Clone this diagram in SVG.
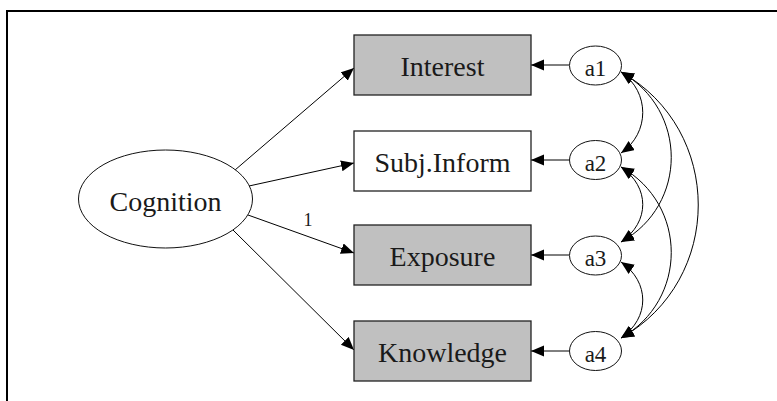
<svg xmlns="http://www.w3.org/2000/svg" width="777" height="401" viewBox="0 0 777 401">
  <style>
    .lbl { font-family: "Liberation Serif", "Times New Roman", serif; fill: #1a1a1a; text-anchor: middle; }
    .big { font-size: 28px; }
    .small { font-size: 23px; }
    .box { stroke: #222; stroke-width: 1.3; }
    .obs { fill: #c0c0c0; }
    .plain { fill: #ffffff; }
    .lat { fill: #ffffff; stroke: #111; stroke-width: 1; }
    .edge { fill: none; stroke: #000; stroke-width: 1; }
    .path { marker-end: url(#head); }
    .cov { marker-start: url(#head); marker-end: url(#head); }
  </style>
  <defs>
    <marker id="head" markerUnits="userSpaceOnUse" markerWidth="14" markerHeight="12" refX="13" refY="5.5" orient="auto-start-reverse">
      <path d="M0,0 L13,5.5 L0,11 z" fill="#000"/>
    </marker>
  </defs>

  <rect width="777" height="401" fill="#ffffff"/>
  <!-- outer frame -->
  <path d="M7,401 V11 H777" fill="none" stroke="#000" stroke-width="2"/>

  <!-- connectors -->
  <g id="connectors">
    <!-- loadings -->
    <line class="edge path" x1="235" y1="170" x2="354" y2="68"/>
    <line class="edge path" x1="249" y1="186" x2="354" y2="163"/>
    <line class="edge path" x1="248" y1="215" x2="354" y2="253"/>
    <line class="edge path" x1="233" y1="230" x2="354" y2="350"/>
    <!-- residuals -->
    <line class="edge path" x1="569" y1="65" x2="531" y2="65"/>
    <line class="edge path" x1="569" y1="160" x2="531" y2="160"/>
    <line class="edge path" x1="569" y1="255" x2="531" y2="255"/>
    <line class="edge path" x1="569" y1="351" x2="531" y2="351"/>
    <!-- residual covariances -->
    <path class="edge cov" d="M621,72 C650,92 650,133 621,153"/>
    <path class="edge cov" d="M621,167 C650,187 650,222 621,242"/>
    <path class="edge cov" d="M621,262 C650,282 650,318 621,338"/>
    <path class="edge cov" d="M621,72 C688,110 688,205 621,242"/>
    <path class="edge cov" d="M621,167 C688,205 688,300 621,338"/>
    <path class="edge cov" d="M621,72 C724,130 724,280 621,338"/>
    <text class="lbl" x="308" y="226" font-size="18">1</text>
  </g>

  <g id="cognition">
    <ellipse class="lat" cx="165.5" cy="199" rx="87" ry="49"/>
    <text class="lbl big" x="165.5" y="211">Cognition</text>
  </g>

  <g id="interest">
    <rect class="box obs" x="354" y="35" width="177" height="60"/>
    <text class="lbl big" x="442.5" y="76">Interest</text>
  </g>
  <g id="subj-inform">
    <rect class="box plain" x="354" y="131" width="177" height="60"/>
    <text class="lbl big" x="442.5" y="172">Subj.Inform</text>
  </g>
  <g id="exposure">
    <rect class="box obs" x="354" y="225" width="177" height="60"/>
    <text class="lbl big" x="442.5" y="266">Exposure</text>
  </g>
  <g id="knowledge">
    <rect class="box obs" x="354" y="321" width="177" height="60"/>
    <text class="lbl big" x="442.5" y="362">Knowledge</text>
  </g>

  <g id="a1">
    <ellipse class="lat" cx="595.5" cy="65.5" rx="26" ry="19.5"/>
    <text class="lbl small" x="595.5" y="76">a1</text>
  </g>
  <g id="a2">
    <ellipse class="lat" cx="595.5" cy="160" rx="26" ry="19.5"/>
    <text class="lbl small" x="595.5" y="171">a2</text>
  </g>
  <g id="a3">
    <ellipse class="lat" cx="595.5" cy="255.5" rx="26" ry="19.5"/>
    <text class="lbl small" x="595.5" y="266">a3</text>
  </g>
  <g id="a4">
    <ellipse class="lat" cx="595.5" cy="351" rx="26" ry="19.5"/>
    <text class="lbl small" x="595.5" y="362">a4</text>
  </g>
</svg>
